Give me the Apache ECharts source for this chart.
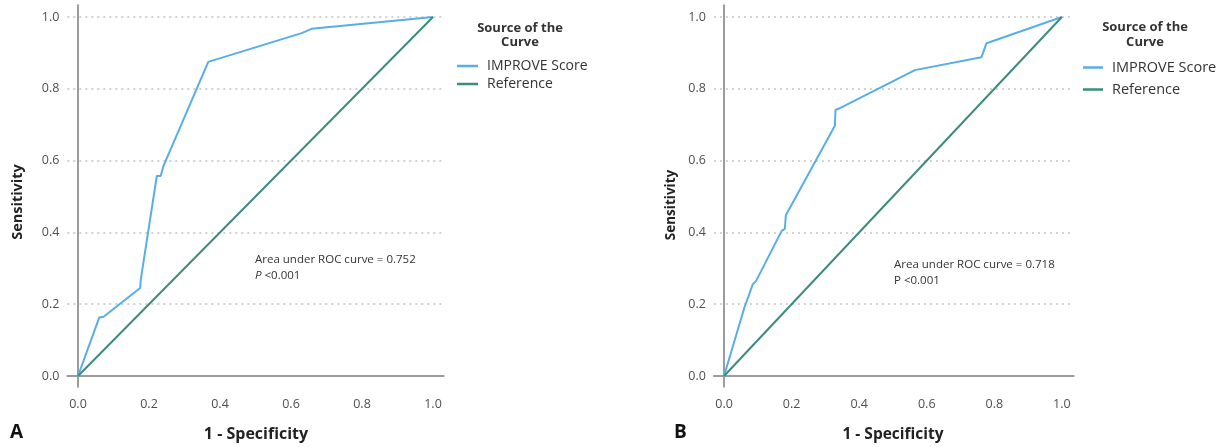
<!DOCTYPE html>
<html>
<head>
<meta charset="utf-8">
<script src="https://cdn.jsdelivr.net/npm/echarts@6/dist/echarts.min.js"></script>
<style>
html,body{margin:0;padding:0;background:#fff;}
#chart{width:1227px;height:447px;}
</style>
</head>
<body>
<div id="chart"></div>
<script>
// ---- data ----
const tickValues = [0, 0.2, 0.4, 0.6, 0.8, 1.0];
const seriesNames = ['IMPROVE Score', 'Reference'];

// Panel A: IMPROVE Score ROC curve (1 - specificity, sensitivity)
const aFpr = [0, 0.060, 0.072, 0.175, 0.177, 0.222, 0.233, 0.240, 0.367, 0.630, 0.658, 0.920, 1.0];
const aTpr = [0, 0.163, 0.165, 0.245, 0.270, 0.557, 0.557, 0.583, 0.875, 0.955, 0.967, 0.992, 1.0];

// Panel B: IMPROVE Score ROC curve
const bFpr = [0, 0.060, 0.085, 0.095, 0.171, 0.180, 0.183, 0.328, 0.330, 0.340, 0.565, 0.762, 0.777, 1.0];
const bTpr = [0, 0.190, 0.255, 0.265, 0.405, 0.410, 0.448, 0.697, 0.741, 0.745, 0.852, 0.888, 0.927, 1.0];

// Reference diagonal
const refFpr = [0, 1];
const refTpr = [0, 1];

const aucA = '0.752';
const aucB = '0.718';

// ---- build ----
const pairs = (xs, ys) => xs.map((x, i) => [x, ys[i]]);
const blue = '#58aee6';
const teal = '#3b8c7d';
const FONT = '"Open Sans", "Noto Sans", sans-serif';

function xAxisFor(gi, max) {
  return {
    type: 'value', gridIndex: gi, min: -0.03, max: max,
    axisLine: { show: true, lineStyle: { color: '#9c9c9c', width: 2 } },
    axisTick: { show: false, customValues: tickValues },
    axisLabel: { customValues: tickValues, formatter: v => v.toFixed(1), color: '#505050', fontSize: 12.5, fontFamily: FONT, margin: 11 },
    splitLine: { show: false }
  };
}
function yAxisFor(gi) {
  return {
    type: 'value', gridIndex: gi, min: -0.03, max: 1.033,
    axisLine: { show: true, lineStyle: { color: '#9c9c9c', width: 2 } },
    axisTick: { show: false, customValues: tickValues },
    axisLabel: { customValues: tickValues, formatter: v => v.toFixed(1), color: '#505050', fontSize: 12.5, fontFamily: FONT, margin: 8 },
    splitLine: { show: true, lineStyle: { color: '#c2c2c2', width: 1.6, type: [2, 4] } }
  };
}
function lineSeries(name, data, color, gi) {
  return {
    name: name, type: 'line', xAxisIndex: gi, yAxisIndex: gi,
    data: data, showSymbol: false, symbol: 'none', silent: true,
    lineStyle: { color: color, width: 2 }, itemStyle: { color: color },
    animation: false
  };
}
function txt(x, y, text, opt) {
  return {
    type: 'text', x: x, y: y, rotation: opt && opt.rotation || 0, silent: true,
    style: Object.assign({ text: text, fill: '#222', font: '12px ' + FONT, textAlign: 'left', textVerticalAlign: 'middle' }, opt && opt.style || {})
  };
}

const option = {
  backgroundColor: '#fff',
  animation: false,
  grid: [
    { left: 67.35, top: 5.15, width: 376.3, height: 381.6 },
    { left: 713.9, top: 5.15, width: 359.8, height: 381.6 }
  ],
  xAxis: [xAxisFor(0, 1.03), xAxisFor(1, 1.035)],
  yAxis: [yAxisFor(0), yAxisFor(1)],
  legend: [
    { orient: 'vertical', left: 452, top: 54, itemWidth: 21, itemHeight: 2.5, itemGap: 4, icon: 'rect',
      data: seriesNames, selectedMode: false,
      textStyle: { fontSize: 14, color: '#333', fontFamily: FONT, padding: [0, 0, 0, 4] } },
    { orient: 'vertical', left: 1078, top: 55, itemWidth: 20, itemHeight: 2.5, itemGap: 7, icon: 'rect',
      data: seriesNames, selectedMode: false,
      textStyle: { fontSize: 14.5, color: '#333', fontFamily: FONT, padding: [0, 0, 0, 4] } }
  ],
  series: [
    lineSeries(seriesNames[0], pairs(aFpr, aTpr), blue, 0),
    lineSeries(seriesNames[1], pairs(refFpr, refTpr), teal, 0),
    lineSeries(seriesNames[0], pairs(bFpr, bTpr), blue, 1),
    lineSeries(seriesNames[1], pairs(refFpr, refTpr), teal, 1)
  ],
  graphic: [
    // legend titles
    txt(520, 28, 'Source of the', { style: { font: 'bold 13px ' + FONT, textAlign: 'center', fill: '#333' } }),
    txt(520, 42, 'Curve', { style: { font: 'bold 13px ' + FONT, textAlign: 'center', fill: '#333' } }),
    txt(1145, 27, 'Source of the', { style: { font: 'bold 13px ' + FONT, textAlign: 'center', fill: '#333' } }),
    txt(1145, 42, 'Curve', { style: { font: 'bold 13px ' + FONT, textAlign: 'center', fill: '#333' } }),
    // annotations
    txt(255, 260, 'Area under ROC curve = ' + aucA, { style: { font: '11.5px ' + FONT, fill: '#333' } }),
    txt(255, 276, '{i|P} <0.001', { style: { font: '11.5px ' + FONT, fill: '#333', rich: { i: { fontStyle: 'italic', fontSize: 11.5, fontFamily: FONT, fill: '#333' } } } }),
    txt(894, 265, 'Area under ROC curve = ' + aucB, { style: { font: '11.5px ' + FONT, fill: '#333' } }),
    txt(894, 281, 'P <0.001', { style: { font: '11.5px ' + FONT, fill: '#333' } }),
    // axis titles
    txt(256, 434, '1 - Specificity', { style: { font: 'bold 16px ' + FONT, textAlign: 'center', fill: '#222' } }),
    txt(893, 435, '1 - Specificity', { style: { font: 'bold 15.5px ' + FONT, textAlign: 'center', fill: '#222' } }),
    txt(18, 202, 'Sensitivity', { rotation: Math.PI / 2, style: { font: 'bold 14.5px ' + FONT, textAlign: 'center', fill: '#222' } }),
    txt(671, 205, 'Sensitivity', { rotation: Math.PI / 2, style: { font: 'bold 13.5px ' + FONT, textAlign: 'center', fill: '#222' } }),
    // panel letters
    txt(10, 433, 'A', { style: { font: 'bold 19px ' + FONT, fill: '#111' } }),
    txt(674, 433, 'B', { style: { font: 'bold 19px ' + FONT, fill: '#111' } })
  ]
};

const chart = echarts.init(document.getElementById('chart'), null, { renderer: 'canvas' });
chart.setOption(option);
</script>
</body>
</html>
